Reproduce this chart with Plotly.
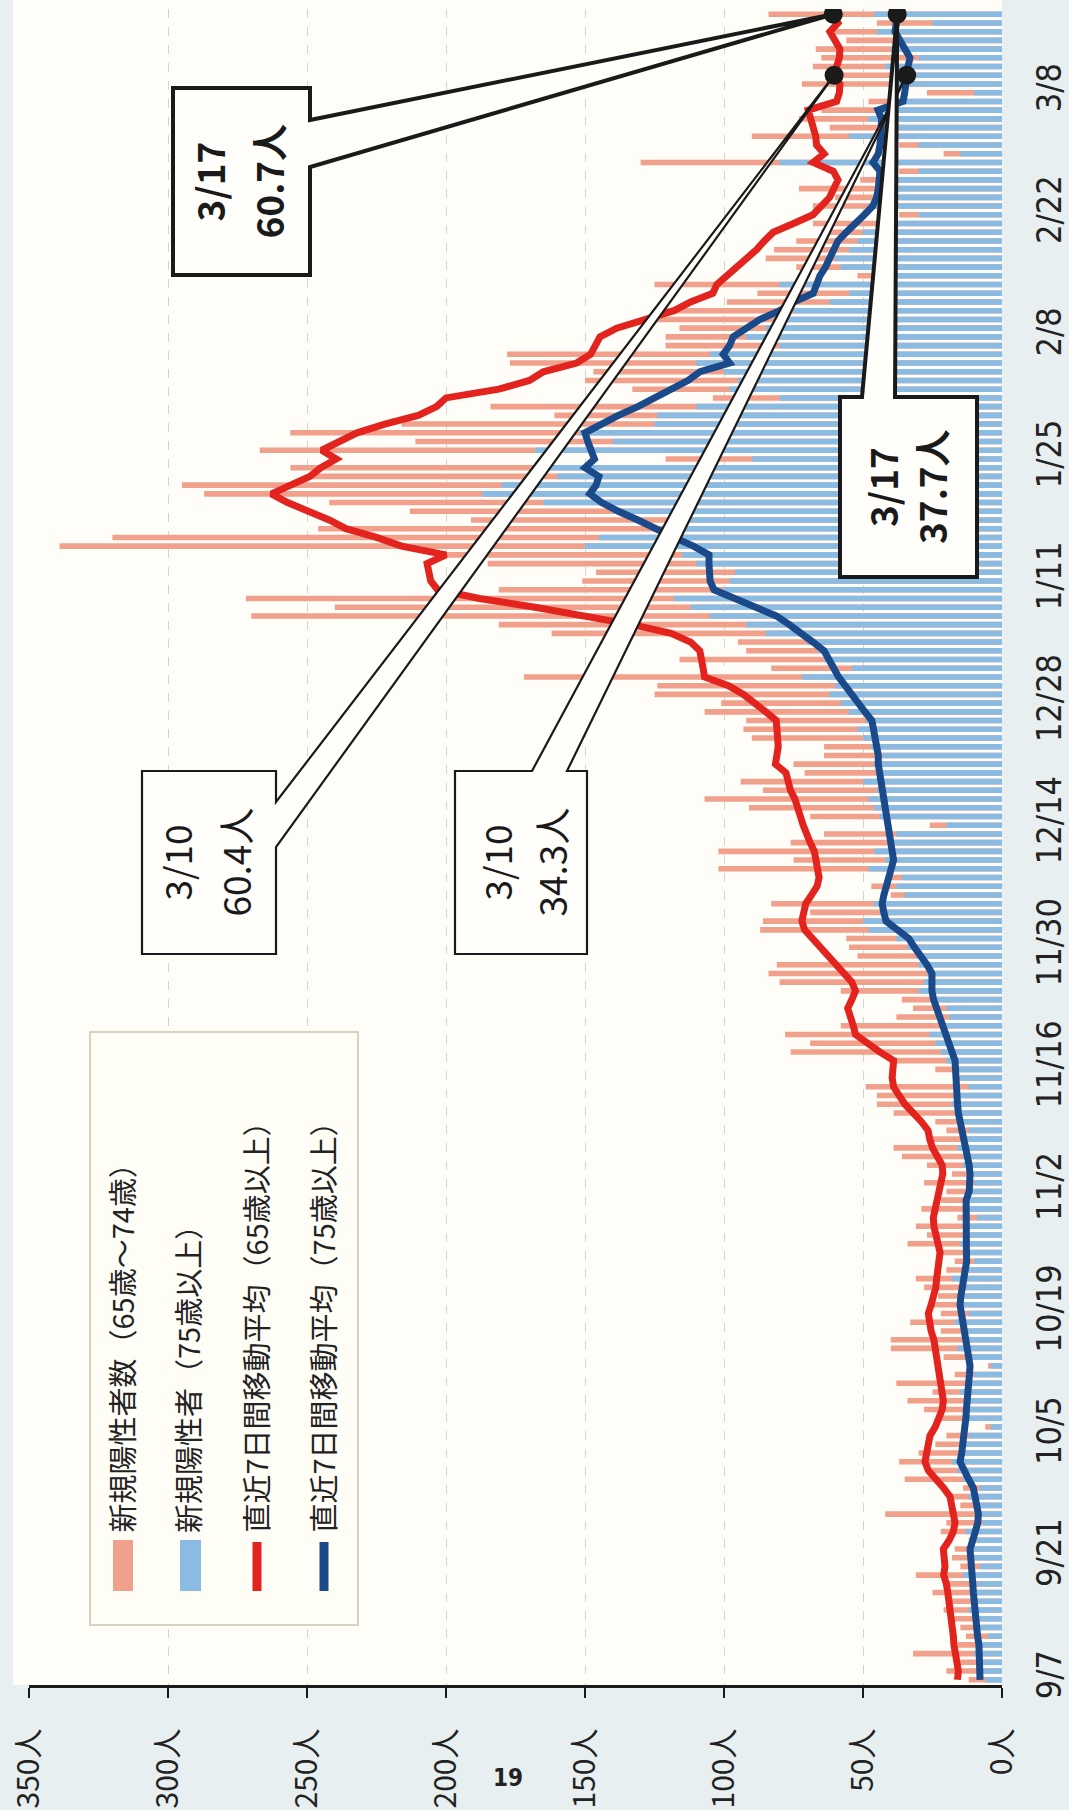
import plotly.graph_objects as go
import pandas as pd

# ---------------- data ----------------
start_date = "2022-09-07"
end_date = "2023-03-17"

# bar length = new positives aged 65+ (65-74 part shown in salmon, 75+ part in blue)
total_65plus = [
    12, 20, 15, 32, 16, 13, 15, 18, 21, 19,
    25, 20, 31, 15, 18, 17, 12, 22, 20, 42,
    15, 18, 14, 35, 27, 37, 30, 24, 20, 6,
    22, 28, 34, 25, 38, 17, 5, 21, 40, 40,
    22, 33, 22, 25, 23, 28, 31, 20, 17, 22,
    34, 27, 31, 16, 29, 22, 20, 28, 18, 27,
    36, 39, 27, 20, 24, 39, 45, 45, 49, 16,
    24, 40, 76, 69, 78, 58, 38, 32, 36, 58,
    80, 84, 81, 52, 55, 56, 87, 86, 69, 83,
    40, 47, 40, 102, 75, 102, 76, 64, 26, 69,
    91, 107, 86, 94, 71, 75, 64, 64, 90, 93,
    92, 107, 101, 125, 124, 172, 83, 116, 92, 95,
    162, 181, 270, 240, 272, 181, 151, 146, 185, 200,
    339, 320, 246, 191, 213, 242, 287, 295, 248, 256,
    121, 267, 211, 256, 216, 161, 184, 104, 133, 150,
    147, 177, 178, 121, 121, 116, 124, 125, 99, 88,
    125, 52, 74, 85, 82, 74, 65, 68, 37, 68,
    60, 73, 51, 37, 130, 21, 37, 90, 62, 73,
    65, 48, 27, 72, 61, 68, 65, 67, 56, 61,
    45, 84,
]

new_75plus = [
    6, 9, 7, 10, 8, 5, 9, 8, 12, 10,
    11, 9, 14, 8, 10, 12, 9, 13, 7, 8,
    10, 12, 8, 14, 16, 18, 15, 13, 12, 4,
    14, 13, 12, 15, 11, 10, 4, 12, 16, 14,
    14, 17, 12, 16, 15, 14, 18, 13, 10, 12,
    15, 13, 14, 9, 12, 13, 11, 10, 12, 14,
    14, 16, 13, 12, 15, 17, 18, 16, 12, 15,
    17, 20, 22, 24, 26, 22, 19, 20, 24, 30,
    28, 27, 30, 31, 34, 38, 48, 50, 44, 46,
    35, 38, 36, 48, 42, 46, 40, 38, 20, 44,
    46, 48, 45, 50, 44, 46, 43, 47, 50, 52,
    49, 55, 58, 62, 60, 72, 54, 64, 66, 70,
    85, 92, 105, 112, 118, 100, 98, 96, 110, 115,
    150, 145, 120, 118, 140, 165, 187, 180, 160, 165,
    90, 168, 140, 152, 125, 124, 110, 80, 98, 95,
    100, 110, 105, 80, 92, 85, 80, 75, 62, 55,
    80, 40, 58, 60, 55, 52, 50, 45, 30, 48,
    40, 45, 38, 30, 80, 15, 30, 55, 42, 48,
    45, 38, 10, 40, 36, 42, 30, 40, 38, 45,
    25, 46,
]

avg_65plus = [
    16, 15.7, 16.2, 17, 17.3, 17.5, 17.8, 18.2, 18.5, 18.7,
    19.5, 20, 21, 20.5, 20.8, 21.1, 19, 17.5, 16.9, 17.5,
    18, 18.7, 21, 24, 26.5, 27.7, 27.2, 26.5, 25.9, 24,
    22.5, 21.5, 21.1, 21.5, 22, 22.3, 22.8, 23.2, 23.5, 24.5,
    25.5, 26, 26.5, 25.5, 24.5, 23.8, 23.5, 23, 22.5, 22.3,
    23, 23.8, 24.5, 24.7, 24, 23.5, 22.8, 22, 21.3, 21.5,
    23.5, 25, 26, 26.6, 29, 32, 34.9, 37, 39, 39.5,
    39.2, 39, 44, 48, 52.7, 53.5, 54.5, 55.5, 54, 52.7,
    54, 56.8, 60, 62.5, 65.1, 68, 71, 72, 71.5, 70.6,
    68.5, 66.5, 65.8, 66.2, 66.5, 67.5, 69, 70.6, 71.5, 72.5,
    73.4, 74.5, 76.1, 77, 77.7, 81.5, 80.9, 80.5, 80.7, 81,
    81.2, 85, 89, 93, 98.4, 107, 107.5, 108, 108.7, 112,
    119, 133, 150, 168, 188, 203, 205.5, 206, 206.8, 200,
    216, 225, 236, 242, 250, 257, 262.8, 256, 249, 245,
    239.5, 244.7, 238, 232, 222, 210, 203.4, 200, 181, 170,
    165, 153, 148, 146, 144.6, 138.6, 128, 118, 112, 104,
    102.6, 99, 95, 92, 88.3, 85.5, 82.3, 75, 68, 65,
    62, 60.5, 59, 60.7, 67.9, 64, 66.7, 67, 67.9, 68.5,
    69.7, 59.5, 58.5, 58.3, 60.4, 59.5, 58.5, 58.3, 60, 61.9,
    59, 60.7,
]

avg_75plus = [
    7.9, 7.9, 8, 7.9, 8.3, 8.8, 9.2, 9.6, 10, 10.2,
    10.3, 10.5, 10.8, 11, 11.3, 11.5, 10.5, 9.5, 8.7, 8.5,
    9.2, 9.8, 10.3, 12, 13.8, 15.1, 14.5, 14, 13.6, 13.2,
    13, 12.8, 12.7, 12.3, 12, 11.7, 11.5, 12, 12.6, 13.3,
    13.9, 14.3, 14.8, 15.1, 14.8, 14.2, 13.6, 13.1, 12.7, 12.8,
    12.9, 13, 12.9, 12.9, 12.9, 12.9, 11.8, 11.5, 11.5, 11.8,
    12.5, 13.2, 14, 14.8, 15.4, 15.7, 16, 16.2, 16.4, 16.6,
    16.8, 16.9, 18, 19.2, 20.3, 21.1, 22.3, 23.5, 24.6, 25.2,
    25.2, 25.2, 27, 29.5, 31.5, 33.5, 38, 41.7, 42.5, 43.1,
    42.5, 41.5, 40.5, 39.8, 39, 39.5, 40, 40.6, 41.2, 41.7,
    42.2, 42.8, 43.4, 44, 44.5, 44.5, 44.5, 45, 45.6, 46.2,
    46.8, 49.3, 51.8, 54.5, 57.1, 58.8, 60.5, 62.3, 64, 68,
    72, 76.5, 81.2, 89, 97, 103.6, 105, 105.4, 105.4, 105.4,
    111, 118, 124, 131, 138, 144, 148.3, 146, 145, 150,
    146.6, 148, 149, 150, 144.6, 138, 131, 125, 118, 113,
    108.6, 98, 100.3, 98, 96.7, 92, 87, 80, 75, 67.9,
    67, 65.5, 63.5, 62, 61, 59, 56, 52.3, 49.5, 46.5,
    45.1, 44.5, 44, 43.9, 46.4, 44.5, 43.9, 43.6, 43.4, 43.3,
    44.6, 35.6, 35, 34.7, 34.3, 33.8, 33.1, 35, 37, 38.5,
    38, 37.7,
]

date_tick_labels = ["9/7", "9/21", "10/5", "10/19", "11/2", "11/16", "11/30",
                    "12/14", "12/28", "1/11", "1/25", "2/8", "2/22", "3/8"]
value_ticks = [0, 50, 100, 150, 200, 250, 300, 350]
value_tick_labels = ["0人", "50人", "100人", "150人", "200人", "250人", "300人", "350人"]

callout_dates = ["3/17", "3/10", "3/10", "3/17"]
callout_values = [60.7, 60.4, 34.3, 37.7]

legend_labels = ["新規陽性者数（65歳～74歳）", "新規陽性者（75歳以上）",
                 "直近7日間移動平均（65歳以上）", "直近7日間移動平均（75歳以上）"]

# ---------------- derived positions ----------------
dates = pd.date_range(start_date, end_date, freq="D")
md = [f"{d.month}/{d.day}" for d in dates]
day_idx = list(range(len(dates)))
assert len(total_65plus) == len(new_75plus) == len(avg_65plus) == len(avg_75plus) == len(dates)
tick_pos = [md.index(t) for t in date_tick_labels]
callout_day = [md.index(d) for d in callout_dates]

# ---------------- layout geometry ----------------
W, H = 1069, 1810
ML, MR, MT, MB = 29, 67, 9, 125
XR = [350, 0]
YR = [-0.6, len(dates) - 1 + 0.6]
PW, PH = W - ML - MR, H - MT - MB


def xv(px):
    return XR[0] + (px - ML) / PW * (XR[1] - XR[0])


def yd(py):
    return YR[0] + (H - MB - py) / PH * (YR[1] - YR[0])


def xp(px):
    return (px - ML) / PW


def yp(py):
    return (H - MB - py) / PH


RED_BAR = "#f1a08c"
BLUE_BAR = "#8abbe2"
RED_LINE = "#e2231e"
BLUE_LINE = "#1b4a8b"
INK = "#1a1a1a"
CREAM = "#fefdf7"

fig = go.Figure()
fig.add_trace(go.Bar(x=total_65plus, y=day_idx, orientation="h", width=0.64,
                     marker=dict(color=RED_BAR, line_width=0), name=legend_labels[0]))
fig.add_trace(go.Bar(x=new_75plus, y=day_idx, orientation="h", width=0.64,
                     marker=dict(color=BLUE_BAR, line_width=0), name=legend_labels[1]))
fig.add_trace(go.Scatter(x=avg_65plus, y=day_idx, mode="lines",
                         line=dict(color=RED_LINE, width=7), name=legend_labels[2]))
fig.add_trace(go.Scatter(x=avg_75plus, y=day_idx, mode="lines",
                         line=dict(color=BLUE_LINE, width=7), name=legend_labels[3]))
fig.add_trace(go.Scatter(x=callout_values, y=callout_day, mode="markers",
                         marker=dict(size=19, color=INK), hoverinfo="skip"))

shapes = []
annotations = []

# cream area left of / above the plot area
shapes.append(dict(type="rect", xref="paper", yref="paper", x0=xp(13), x1=xp(ML + 1),
                   y0=yp(H - MB), y1=yp(0), fillcolor=CREAM, line_width=0, layer="below"))
shapes.append(dict(type="rect", xref="paper", yref="paper", x0=xp(13), x1=1,
                   y0=1, y1=yp(0), fillcolor=CREAM, line_width=0, layer="below"))

# callout boxes with pointer wedges (box geometry in px, tip at the data point)
callouts = [
    dict(box=(173, 88, 310, 275), side="right", base=(120, 167), bold=True, lw=4, tx=(208, 267)),
    dict(box=(142, 771, 276, 954), side="right", base=(802, 847), bold=False, lw=2.2, tx=(175, 234)),
    dict(box=(455, 771, 587, 954), side="top", base=(532, 567), bold=False, lw=2.2, tx=(495, 550)),
    dict(box=(840, 397, 977, 577), side="top", base=(862, 895), bold=True, lw=4, tx=(882, 931)),
]
for c, v, d, lab in zip(callouts, callout_values, callout_day, callout_dates):
    x0, y0, x1, y1 = c["box"]
    b0, b1 = c["base"]
    tip = (v, d)
    if c["side"] == "right":
        pts_px = [(x0, y0), (x1, y0), (x1, b0), None, (x1, b1), (x1, y1), (x0, y1)]
    else:
        pts_px = [(x0, y0), (b0, y0), None, (b1, y0), (x1, y0), (x1, y1), (x0, y1)]
    pts = [tip if p is None else (xv(p[0]), yd(p[1])) for p in pts_px]
    path = "M " + " L ".join(f"{a:.4f},{b:.4f}" for a, b in pts) + " Z"
    shapes.append(dict(type="path", xref="x", yref="y", path=path, fillcolor="#fffefb",
                       line=dict(color=INK, width=c["lw"]), layer="above"))
    cy = (y0 + y1) / 2
    for txt, tx in zip([lab, f"{v}人"], c["tx"]):
        t = f"<b>{txt}</b>" if c["bold"] else txt
        annotations.append(dict(text=t, x=xp(tx), y=yp(cy), xref="paper", yref="paper",
                                showarrow=False, textangle=-90, xanchor="center", yanchor="middle",
                                font=dict(family="Noto Sans CJK JP", size=37, color=INK)))

# hand-made legend (rotated with the chart)
shapes.append(dict(type="rect", xref="paper", yref="paper", x0=xp(90), x1=xp(358),
                   y0=yp(1625), y1=yp(1032), fillcolor="#fffef6",
                   line=dict(color="#d6d2bd", width=2), layer="above"))
shapes.append(dict(type="rect", xref="paper", yref="paper", x0=xp(113), x1=xp(133),
                   y0=yp(1591), y1=yp(1540), fillcolor=RED_BAR, line_width=0, layer="above"))
shapes.append(dict(type="rect", xref="paper", yref="paper", x0=xp(180), x1=xp(201),
                   y0=yp(1591), y1=yp(1540), fillcolor=BLUE_BAR, line_width=0, layer="above"))
shapes.append(dict(type="line", xref="paper", yref="paper", x0=xp(257), x1=xp(257),
                   y0=yp(1591), y1=yp(1542), line=dict(color=RED_LINE, width=9), layer="above"))
shapes.append(dict(type="line", xref="paper", yref="paper", x0=xp(324), x1=xp(324),
                   y0=yp(1591), y1=yp(1542), line=dict(color=BLUE_LINE, width=9), layer="above"))
for lab, cx in zip(legend_labels, [120, 187, 254, 321]):
    annotations.append(dict(text=lab, x=xp(cx), y=yp(1535), xref="paper", yref="paper",
                            showarrow=False, textangle=-90, xanchor="center", yanchor="bottom",
                            font=dict(family="Noto Sans CJK JP", size=29, color="#222")))

# page number
annotations.append(dict(text="<b>19</b>", x=xp(508), y=yp(1778), xref="paper", yref="paper",
                        showarrow=False, xanchor="center", yanchor="middle",
                        font=dict(family="Liberation Sans Narrow, DejaVu Sans Condensed, sans-serif",
                                  size=24, color="#222")))

fig.update_layout(
    width=W, height=H,
    margin=dict(l=ML, r=MR, t=MT, b=MB, autoexpand=False),
    paper_bgcolor="#e8eff0",
    plot_bgcolor=CREAM,
    barmode="overlay",
    showlegend=False,
    hovermode=False,
    shapes=shapes,
    annotations=annotations,
    xaxis=dict(range=XR, tickvals=value_ticks, ticktext=value_tick_labels, tickangle=-90,
               ticks="outside", ticklen=10, tickwidth=2, tickcolor=INK,
               showline=True, linecolor=INK, linewidth=2.5,
               showgrid=True, gridcolor="#d4d4d0", griddash="dash", gridwidth=1,
               zeroline=False, ticklabelstandoff=19, automargin=False,
               tickfont=dict(family="Noto Sans CJK JP", size=30, color="#222")),
    yaxis=dict(range=YR, tickvals=tick_pos, ticktext=date_tick_labels, tickangle=-90,
               side="right", ticks="", showgrid=False, zeroline=False, showline=False,
               ticklabelstandoff=24, automargin=False,
               tickfont=dict(family="Liberation Sans Narrow, DejaVu Sans Condensed, sans-serif",
                             size=34, color="#222")),
)

fig.write_html("out.html", config={"displayModeBar": False, "staticPlot": True},
               post_script="document.body.style.margin='0';document.body.style.overflow='hidden';")
